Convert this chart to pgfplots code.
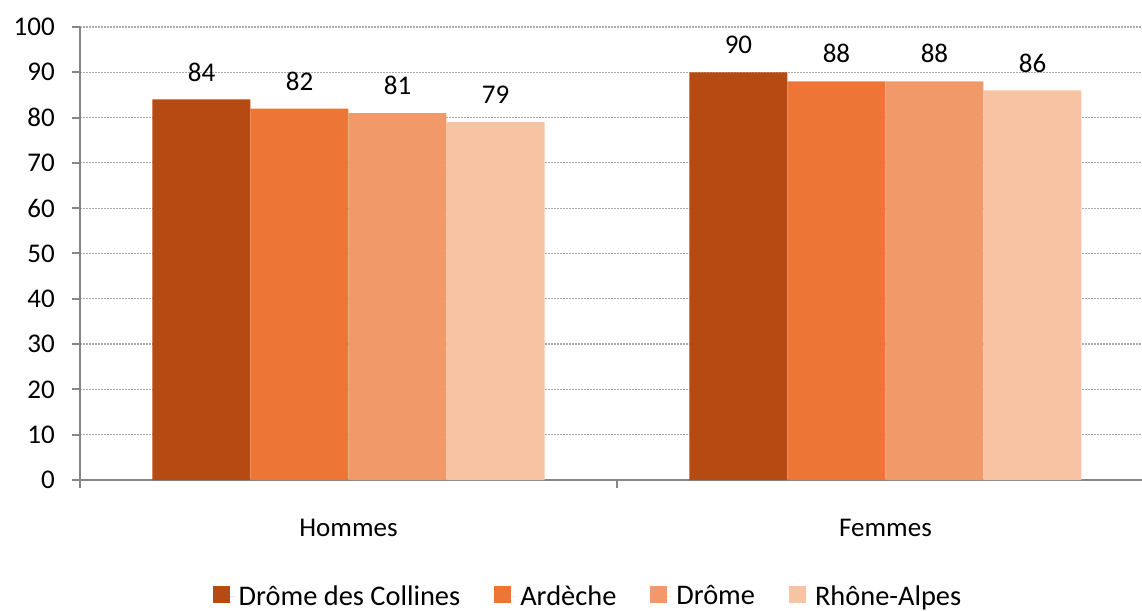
\documentclass[border=0pt]{standalone}
\usepackage{pgfplots}
\pgfplotsset{compat=1.18}
\usepackage{fontspec}
\setmainfont{Carlito}

\definecolor{collines}{RGB}{181,75,18}
\definecolor{ardeche}{RGB}{237,117,53}
\definecolor{drome}{RGB}{242,153,106}
\definecolor{rhone}{RGB}{247,195,163}
\definecolor{axisgray}{RGB}{134,134,134}
\definecolor{gridgray}{RGB}{170,170,170}

\newcommand{\fs}{\fontsize{27}{32}\selectfont}
\newcommand{\fl}{\fontsize{28.4}{34}\selectfont}

\begin{document}
\begin{tikzpicture}
\useasboundingbox (0,0) rectangle (1142pt,610pt);
\begin{axis}[
  at={(80pt,130pt)}, anchor=south west,
  scale only axis, width=1062pt, height=453pt,
  xmin=-0.5, xmax=1.4777, ymin=0, ymax=100,
  ybar=0pt, bar width=98pt,
  axis x line*=bottom, axis y line*=left,
  axis line style={draw=axisgray, line width=2.5pt},
  ytick={0,10,...,100},
  ymajorgrids,
  major grid style={draw=gridgray, line width=1.2pt, dash pattern=on 1.5pt off 1.5pt},
  xtick={0,1}, xticklabels={Hommes,Femmes},
  major x tick style={draw=none},
  minor xtick={-0.5,0.5,1.5},
  minor x tick style={draw=axisgray, line width=1.5pt},
  minor tick length=8pt,
  major tick length=8pt,
  tick align=outside,
  y tick style={draw=axisgray, line width=2pt},
  /pgf/number format/assume math mode=true,
  tick label style={font=\fs, text=black},
  yticklabel style={anchor=east, inner sep=0pt, xshift=-17pt},
  xticklabel style={anchor=base, inner sep=0pt, yshift=-48pt},
  nodes near coords,
  nodes near coords style={font=\fs, text=black, anchor=south, inner sep=0pt, yshift=18pt},
  legend columns=4,
  legend style={draw=none, fill=none, font=\fl, at={(axis description cs:0.4788,-0.291)}, anchor=south,
    /tikz/every even column/.append style={column sep=31pt},
    nodes={inner sep=3pt}},
  legend image code/.code={\fill[#1] (0pt,-7pt) rectangle (17pt,10pt); \path (0pt,0pt) -- (23pt,0pt);},
]
\addplot[fill=collines, draw=none] coordinates {(0,84) (1,90)};
\addplot[fill=ardeche, draw=none] coordinates {(0,82) (1,88)};
\addplot[fill=drome, draw=none] coordinates {(0,81) (1,88)};
\addplot[fill=rhone, draw=none] coordinates {(0,79) (1,86)};
\legend{Drôme des Collines, Ardèche, Drôme, Rhône-Alpes}
\end{axis}
\end{tikzpicture}
\end{document}
